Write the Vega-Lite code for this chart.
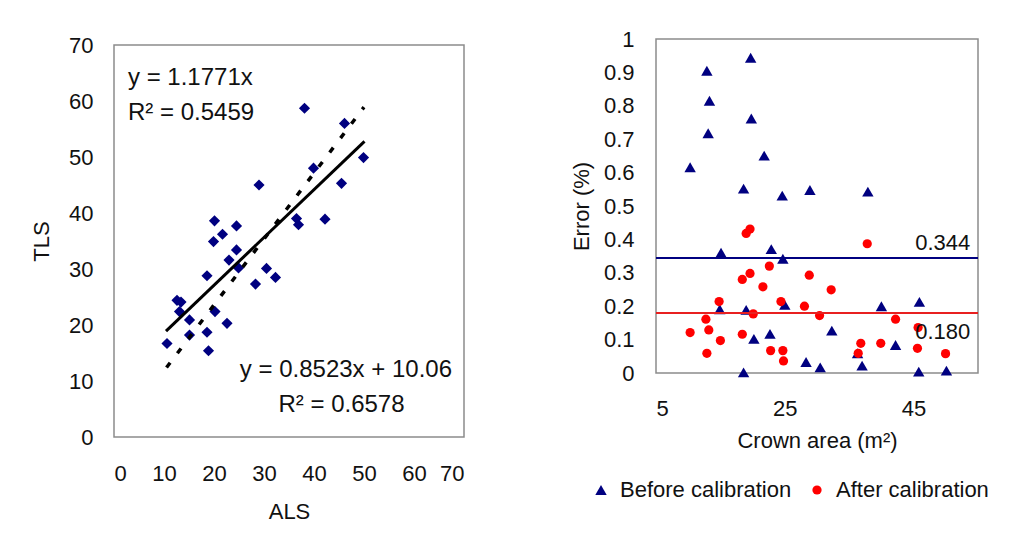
{
  "$schema": "https://vega.github.io/schema/vega-lite/v6.json",
  "background": "white",
  "padding": {"left": 29, "top": 27, "right": 5, "bottom": 5},
  "config": {
    "font": "Liberation Sans",
    "view": {"stroke": "#8c8c8c", "strokeWidth": 1.5},
    "axis": {
      "grid": false, "domain": false, "ticks": false,
      "labelFontSize": 22, "titleFontSize": 22,
      "labelColor": "#111111", "titleColor": "#111111",
      "titleFontWeight": "normal", "labelFont": "Liberation Sans", "titleFont": "Liberation Sans"
    },
    "legend": {"labelFontSize": 22, "labelColor": "#111111", "labelFont": "Liberation Sans", "padding": 0, "labelLimit": 0}
  },
  "datasets": {
    "alsTls": [
      {"ALS": 10.6, "TLS": 16.7}, {"ALS": 12.6, "TLS": 24.4}, {"ALS": 13.4, "TLS": 24.1},
      {"ALS": 13.1, "TLS": 22.4}, {"ALS": 15.1, "TLS": 20.9}, {"ALS": 15.1, "TLS": 18.2},
      {"ALS": 18.6, "TLS": 28.8}, {"ALS": 18.6, "TLS": 18.7}, {"ALS": 18.9, "TLS": 15.4},
      {"ALS": 20.1, "TLS": 38.6}, {"ALS": 19.9, "TLS": 34.9}, {"ALS": 20.2, "TLS": 22.4},
      {"ALS": 21.7, "TLS": 36.2}, {"ALS": 22.6, "TLS": 20.3}, {"ALS": 23.0, "TLS": 31.6},
      {"ALS": 24.5, "TLS": 37.7}, {"ALS": 24.5, "TLS": 33.4}, {"ALS": 24.9, "TLS": 30.2},
      {"ALS": 28.3, "TLS": 27.3}, {"ALS": 29.0, "TLS": 45.0}, {"ALS": 30.5, "TLS": 30.1},
      {"ALS": 32.3, "TLS": 28.5}, {"ALS": 36.5, "TLS": 39.0}, {"ALS": 36.9, "TLS": 37.9},
      {"ALS": 38.1, "TLS": 58.7}, {"ALS": 39.9, "TLS": 48.0}, {"ALS": 42.2, "TLS": 38.9},
      {"ALS": 45.5, "TLS": 45.3}, {"ALS": 46.1, "TLS": 56.0}, {"ALS": 49.9, "TLS": 49.9}
    ],
    "trend": [
      {"fit": "linear", "ALS": 10.4, "TLS": 18.9},
      {"fit": "linear", "ALS": 50.1, "TLS": 52.8},
      {"fit": "origin", "ALS": 10.5, "TLS": 12.4},
      {"fit": "origin", "ALS": 50.0, "TLS": 58.9}
    ],
    "error": [
      {"area": 10.3, "err": 0.616, "series": "Before calibration"},
      {"area": 12.9, "err": 0.905, "series": "Before calibration"},
      {"area": 13.3, "err": 0.815, "series": "Before calibration"},
      {"area": 13.1, "err": 0.718, "series": "Before calibration"},
      {"area": 15.1, "err": 0.360, "series": "Before calibration"},
      {"area": 14.9, "err": 0.191, "series": "Before calibration"},
      {"area": 18.6, "err": 0.552, "series": "Before calibration"},
      {"area": 18.6, "err": 0.002, "series": "Before calibration"},
      {"area": 19.0, "err": 0.189, "series": "Before calibration"},
      {"area": 19.7, "err": 0.944, "series": "Before calibration"},
      {"area": 19.8, "err": 0.762, "series": "Before calibration"},
      {"area": 20.2, "err": 0.102, "series": "Before calibration"},
      {"area": 21.8, "err": 0.651, "series": "Before calibration"},
      {"area": 22.9, "err": 0.371, "series": "Before calibration"},
      {"area": 22.7, "err": 0.117, "series": "Before calibration"},
      {"area": 24.6, "err": 0.531, "series": "Before calibration"},
      {"area": 24.7, "err": 0.342, "series": "Before calibration"},
      {"area": 25.0, "err": 0.204, "series": "Before calibration"},
      {"area": 28.3, "err": 0.033, "series": "Before calibration"},
      {"area": 28.9, "err": 0.548, "series": "Before calibration"},
      {"area": 30.5, "err": 0.017, "series": "Before calibration"},
      {"area": 32.3, "err": 0.127, "series": "Before calibration"},
      {"area": 37.0, "err": 0.022, "series": "Before calibration"},
      {"area": 37.9, "err": 0.543, "series": "Before calibration"},
      {"area": 36.3, "err": 0.059, "series": "Before calibration"},
      {"area": 40.0, "err": 0.200, "series": "Before calibration"},
      {"area": 42.2, "err": 0.084, "series": "Before calibration"},
      {"area": 45.9, "err": 0.213, "series": "Before calibration"},
      {"area": 45.8, "err": 0.004, "series": "Before calibration"},
      {"area": 50.1, "err": 0.007, "series": "Before calibration"},
      {"area": 10.3, "err": 0.121, "series": "After calibration"},
      {"area": 12.75, "err": 0.161, "series": "After calibration"},
      {"area": 12.9, "err": 0.059, "series": "After calibration"},
      {"area": 13.2, "err": 0.129, "series": "After calibration"},
      {"area": 14.8, "err": 0.214, "series": "After calibration"},
      {"area": 15.0, "err": 0.097, "series": "After calibration"},
      {"area": 18.4, "err": 0.280, "series": "After calibration"},
      {"area": 18.4, "err": 0.116, "series": "After calibration"},
      {"area": 19.0, "err": 0.418, "series": "After calibration"},
      {"area": 19.6, "err": 0.431, "series": "After calibration"},
      {"area": 19.6, "err": 0.298, "series": "After calibration"},
      {"area": 20.1, "err": 0.177, "series": "After calibration"},
      {"area": 21.6, "err": 0.258, "series": "After calibration"},
      {"area": 22.6, "err": 0.320, "series": "After calibration"},
      {"area": 22.8, "err": 0.067, "series": "After calibration"},
      {"area": 24.4, "err": 0.214, "series": "After calibration"},
      {"area": 24.7, "err": 0.067, "series": "After calibration"},
      {"area": 24.8, "err": 0.036, "series": "After calibration"},
      {"area": 28.05, "err": 0.200, "series": "After calibration"},
      {"area": 28.8, "err": 0.293, "series": "After calibration"},
      {"area": 30.4, "err": 0.172, "series": "After calibration"},
      {"area": 32.2, "err": 0.249, "series": "After calibration"},
      {"area": 36.4, "err": 0.059, "series": "After calibration"},
      {"area": 36.8, "err": 0.089, "series": "After calibration"},
      {"area": 37.8, "err": 0.387, "series": "After calibration"},
      {"area": 39.9, "err": 0.089, "series": "After calibration"},
      {"area": 42.2, "err": 0.161, "series": "After calibration"},
      {"area": 45.7, "err": 0.136, "series": "After calibration"},
      {"area": 45.6, "err": 0.074, "series": "After calibration"},
      {"area": 49.96, "err": 0.058, "series": "After calibration"}
    ]
  },
  "bounds": "flush",
  "spacing": 542,
  "hconcat": [
    {
      "bounds": "flush",
      "spacing": 0,
      "vconcat": [
        {
          "width": 350,
          "height": 6,
          "view": {"stroke": null},
          "data": {"values": []},
          "mark": {"type": "point"}
        },
        {
          "width": 350,
          "height": 392,
          "layer": [
            {
              "data": {"name": "alsTls"},
              "mark": {"type": "point", "shape": "diamond", "filled": true, "size": 125, "color": "#000080", "opacity": 1},
              "encoding": {
                "x": {"field": "ALS", "type": "quantitative", "scale": {"domain": [0, 70], "nice": false},
                      "axis": {"values": [0, 10, 20, 30, 40, 50, 60, 70], "title": "ALS", "labelPadding": 26, "titlePadding": 17}},
                "y": {"field": "TLS", "type": "quantitative", "scale": {"domain": [0, 70], "nice": false},
                      "axis": {"values": [0, 10, 20, 30, 40, 50, 60, 70], "title": "TLS", "labelPadding": 21, "titlePadding": 15}}
              }
            },
            {
              "data": {"name": "trend"},
              "transform": [{"filter": "datum.fit === 'linear'"}],
              "mark": {"type": "line", "color": "#000000", "strokeWidth": 3},
              "encoding": {"x": {"field": "ALS", "type": "quantitative"}, "y": {"field": "TLS", "type": "quantitative"}}
            },
            {
              "data": {"name": "trend"},
              "transform": [{"filter": "datum.fit === 'origin'"}],
              "mark": {"type": "line", "color": "#000000", "strokeWidth": 3.5, "strokeDash": [6, 12], "strokeCap": "butt"},
              "encoding": {"x": {"field": "ALS", "type": "quantitative"}, "y": {"field": "TLS", "type": "quantitative"}}
            },
            {
              "data": {"values": [{"label": "y = 1.1771x"}]},
              "mark": {"type": "text", "align": "left", "baseline": "middle", "fontSize": 24, "color": "#111111"},
              "encoding": {"x": {"datum": 2.8}, "y": {"datum": 64.1}, "text": {"field": "label"}}
            },
            {
              "data": {"values": [{"label": "R² = 0.5459"}]},
              "mark": {"type": "text", "align": "left", "baseline": "middle", "fontSize": 24, "color": "#111111"},
              "encoding": {"x": {"datum": 2.8}, "y": {"datum": 57.9}, "text": {"field": "label"}}
            },
            {
              "data": {"values": [{"label": "y = 0.8523x + 10.06"}]},
              "mark": {"type": "text", "align": "right", "baseline": "middle", "fontSize": 24, "color": "#111111"},
              "encoding": {"x": {"datum": 67.6}, "y": {"datum": 12.0}, "text": {"field": "label"}}
            },
            {
              "data": {"values": [{"label": "R² = 0.6578"}]},
              "mark": {"type": "text", "align": "center", "baseline": "middle", "fontSize": 24, "color": "#111111"},
              "encoding": {"x": {"datum": 45.5}, "y": {"datum": 5.7}, "text": {"field": "label"}}
            }
          ]
        }
      ]
    },
    {
      "width": 322,
      "height": 334,
      "layer": [
        {
          "data": {"name": "error"},
          "mark": {"type": "point", "filled": true, "opacity": 1},
          "encoding": {
            "x": {"field": "area", "type": "quantitative", "scale": {"domain": [5, 55], "nice": false},
                  "axis": {"values": [5, 25, 45], "title": "Crown area (m²)", "labelPadding": 25, "titlePadding": 11}},
            "y": {"field": "err", "type": "quantitative", "scale": {"domain": [0, 1], "nice": false},
                  "axis": {"values": [0, 0.1, 0.2, 0.3, 0.4, 0.5, 0.6, 0.7, 0.8, 0.9, 1], "format": "~g", "title": "Error (%)", "labelPadding": 22, "titlePadding": 10, "labelOverlap": false}},
            "shape": {"field": "series", "type": "nominal",
                      "scale": {"domain": ["Before calibration", "After calibration"], "range": ["triangle-up", "circle"]},
                      "legend": {"title": null, "orient": "none", "legendX": 476, "legendY": 440, "direction": "horizontal", "columnPadding": 14, "labelOffset": 8}},
            "color": {"field": "series", "type": "nominal",
                      "scale": {"domain": ["Before calibration", "After calibration"], "range": ["#000080", "#ff0000"]}},
            "size": {"field": "series", "type": "nominal",
                     "scale": {"domain": ["Before calibration", "After calibration"], "range": [130, 85]}}
          }
        },
        {
          "data": {"values": [{"series": "Before calibration"}]},
          "mark": {"type": "rule", "color": "#000080", "strokeWidth": 2},
          "encoding": {"y": {"datum": 0.344, "axis": {"values": [0, 0.1, 0.2, 0.3, 0.4, 0.5, 0.6, 0.7, 0.8, 0.9, 1], "format": "~g", "title": "Error (%)", "labelPadding": 22, "titlePadding": 10, "labelOverlap": false}}}
        },
        {
          "data": {"values": [{"series": "After calibration"}]},
          "mark": {"type": "rule", "color": "#e82020", "strokeWidth": 2},
          "encoding": {"y": {"datum": 0.18, "axis": {"values": [0, 0.1, 0.2, 0.3, 0.4, 0.5, 0.6, 0.7, 0.8, 0.9, 1], "format": "~g", "title": "Error (%)", "labelPadding": 22, "titlePadding": 10, "labelOverlap": false}}}
        },
        {
          "data": {"values": [{"label": "0.344"}]},
          "mark": {"type": "text", "align": "right", "baseline": "middle", "fontSize": 22, "color": "#111111"},
          "encoding": {"x": {"datum": 53.8}, "y": {"datum": 0.389, "axis": {"values": [0, 0.1, 0.2, 0.3, 0.4, 0.5, 0.6, 0.7, 0.8, 0.9, 1], "format": "~g", "title": "Error (%)", "labelPadding": 22, "titlePadding": 10, "labelOverlap": false}}, "text": {"field": "label"}}
        },
        {
          "data": {"values": [{"label": "0.180"}]},
          "mark": {"type": "text", "align": "right", "baseline": "middle", "fontSize": 22, "color": "#111111"},
          "encoding": {"x": {"datum": 53.8}, "y": {"datum": 0.123, "axis": {"values": [0, 0.1, 0.2, 0.3, 0.4, 0.5, 0.6, 0.7, 0.8, 0.9, 1], "format": "~g", "title": "Error (%)", "labelPadding": 22, "titlePadding": 10, "labelOverlap": false}}, "text": {"field": "label"}}
        }
      ]
    }
  ]
}
